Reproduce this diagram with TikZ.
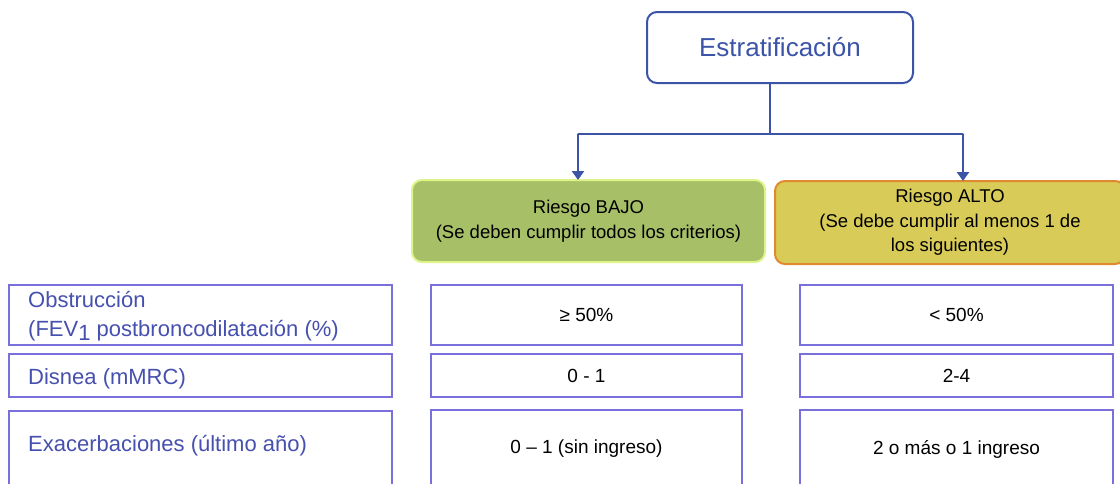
\documentclass[tikz,border=0pt]{standalone}
\usepackage{fontspec}
\setmainfont{Liberation Sans}
\usetikzlibrary{arrows.meta}
\definecolor{hdrblue}{HTML}{3B54A8}
\definecolor{lblblue}{HTML}{4650AE}
\definecolor{critc}{HTML}{7A70DC}
\definecolor{bajofill}{HTML}{A7C068}
\definecolor{bajoline}{HTML}{DCF488}
\definecolor{altofill}{HTML}{D9CB58}
\definecolor{altoline}{HTML}{E0892E}
\tikzset{
  hdr/.style={draw=hdrblue, line width=2pt, fill=white, rounded corners=10pt,
    text=hdrblue, minimum width=266pt, minimum height=71pt,
    font=\fontsize{26}{30}\selectfont},
  risk/.style={line width=2pt, rounded corners=10pt, align=center,
    font=\fontsize{18.5}{24.5}\selectfont, text=black, inner sep=0pt},
  conn/.style={draw=hdrblue, line width=2.8pt},
  connshadow/.style={draw=black!50, line width=2.8pt, opacity=0.45},
  cell/.style={draw=critc, line width=1.2pt, inner sep=0pt},
  lbltext/.style={text=lblblue, align=left, anchor=west, inner sep=0pt,
    font=\fontsize{22}{29}\selectfont},
  val/.style={cell, text=black, align=center,
    font=\fontsize{19}{24}\selectfont}
}
\begin{document}
\begin{tikzpicture}[x=1pt,y=-1pt]
\useasboundingbox (0,0) rectangle (1120,483);
\clip (0,0) rectangle (1120,483);
\fill[white] (0,0) rectangle (1120,483);

% header
\node[hdr] (estr) at (780,47.5) {Estratificación};

% risk boxes
\node[risk, draw=bajoline, fill=bajofill, minimum width=353pt, minimum height=82pt]
  (bajo) at (588.5,221) {Riesgo BAJO\\(Se deben cumplir todos los criterios)};
\node[risk, draw=altoline, fill=altofill, minimum width=350pt, minimum height=83pt]
  (alto) at (950,222.5) {Riesgo ALTO\\(Se debe cumplir al menos 1 de\\los siguientes)};

% connectors
\coordinate (j) at (770,134);
\coordinate (bl) at (578,134);
\coordinate (br) at (963,134);
\begin{scope}[shift={(2.5,2.5)}]
  \draw[connshadow] (j |- estr.south) -- (j);
  \draw[connshadow] (bl |- bajo.north) -- (bl) -- (br) -- (br |- alto.north);
\end{scope}
\draw[conn] (j |- estr.south) -- (j);
\draw[conn] (bl) -- (br);
\draw[conn, -{Triangle[length=9pt,width=12pt]}] (bl) -- ([yshift=-1pt]bl |- bajo.north);
\draw[conn, -{Triangle[length=9pt,width=12pt]}] (br) -- ([yshift=-1pt]br |- alto.north);

% criteria label boxes
\node[cell, minimum width=383pt, minimum height=60pt] (obs) at (200.5,315) {};
\node[cell, minimum width=383pt, minimum height=43pt] (dis) at (200.5,375.5) {};
\node[cell, minimum width=383pt, minimum height=78pt] (exa) at (200.5,450) {};
\node[lbltext] (obsT) at (28,316)
  {Obstrucción\\(FEV\raisebox{-4pt}{1} postbroncodilatación (\%)};
\node[lbltext] (disT) at (28,379) {Disnea (mMRC)};
\node[lbltext] (exaT) at (28,446) {Exacerbaciones (último año)};

% low-risk values
\node[val, minimum width=311pt, minimum height=60pt] (obsb) at (586.5,315) {≥ 50\%};
\node[val, minimum width=311pt, minimum height=43pt] (disb) at (586.5,375.5) {0 - 1};
\node[val, minimum width=311pt, minimum height=78pt] (exab) at (586.5,449) {0 – 1 (sin ingreso)};

% high-risk values
\node[val, minimum width=313pt, minimum height=60pt] (obsa) at (956.5,315) {< 50\%};
\node[val, minimum width=313pt, minimum height=43pt] (disa) at (956.5,375.5) {2-4};
\node[val, minimum width=313pt, minimum height=78pt] (exaa) at (956.5,449) {2 o más o 1 ingreso};
\end{tikzpicture}
\end{document}
